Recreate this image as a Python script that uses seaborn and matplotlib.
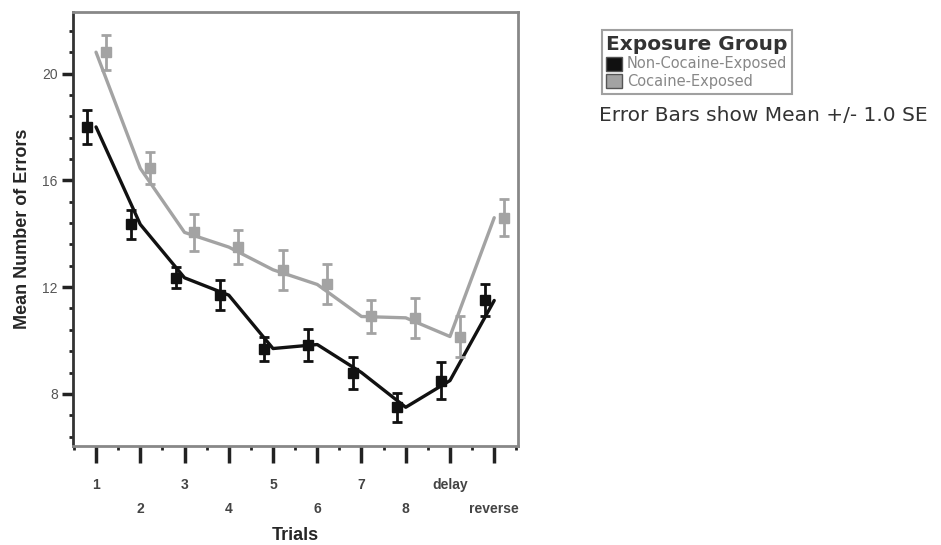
import numpy as np
import pandas as pd
import matplotlib
matplotlib.use('Agg')
import matplotlib.pyplot as plt
import seaborn as sns
from matplotlib.patches import Patch

trials = ['1', '2', '3', '4', '5', '6', '7', '8', 'delay', 'reverse']
non_mean = [18.0, 14.35, 12.35, 11.7, 9.7, 9.85, 8.8, 7.5, 8.5, 11.5]
non_se = [0.62, 0.55, 0.4, 0.55, 0.45, 0.6, 0.6, 0.55, 0.7, 0.6]
coc_mean = [20.8, 16.45, 14.05, 13.5, 12.65, 12.1, 10.9, 10.85, 10.15, 14.6]
coc_se = [0.65, 0.6, 0.7, 0.65, 0.75, 0.75, 0.6, 0.75, 0.75, 0.7]
groups = ['Non-Cocaine-Exposed', 'Cocaine-Exposed']
colors = {'Non-Cocaine-Exposed': '#111111', 'Cocaine-Exposed': '#a3a3a3'}

pos = np.arange(1, len(trials) + 1)
df = pd.DataFrame({
    'pos': np.concatenate([pos, pos]),
    'mean': non_mean + coc_mean,
    'se': non_se + coc_se,
    'group': [groups[0]] * len(pos) + [groups[1]] * len(pos),
})

sns.set_style('white')
plt.rcParams['font.family'] = ['Liberation Sans', 'DejaVu Sans']
fig = plt.figure(figsize=(9.41, 5.45), dpi=100)
ax = fig.add_axes([0.0776, 0.1817, 0.473, 0.796])

sns.lineplot(data=df, x='pos', y='mean', hue='group', palette=colors,
             linewidth=2.4, legend=False, ax=ax, sort=False)

offsets = {groups[0]: -0.2, groups[1]: 0.22}
for g in groups:
    sub = df[df['group'] == g]
    ax.errorbar(sub['pos'] + offsets[g], sub['mean'], yerr=sub['se'],
                fmt='s', color=colors[g], ms=7, capsize=3.5, elinewidth=2,
                capthick=2, zorder=3)

ax.set_xlim(0.48, 10.54)
ax.set_ylim(6.05, 22.3)

ax.set_xticks(pos)
ax.set_xticklabels([t if i % 2 == 0 else '\n' + t for i, t in enumerate(trials)],
                   fontsize=10, color='#444444', fontweight='bold', linespacing=1.9)
ax.set_xticks(list(pos - 0.5)[:1] + list(pos + 0.5), minor=True)
ax.set_yticks([8, 12, 16, 20])
ax.set_yticklabels(['8', '12', '16', '20'], fontsize=10, color='#555555')
ax.set_yticks(np.arange(6.4, 22.4, 0.8), minor=True)

ax.tick_params(axis='x', which='major', direction='out', length=12, width=2.5,
               color='#222222', pad=11, bottom=True)
ax.tick_params(axis='x', which='minor', direction='out', length=3, width=2,
               color='#222222', bottom=True)
ax.tick_params(axis='y', which='major', direction='out', length=8, width=2.5,
               color='#222222', pad=3, left=True)
ax.tick_params(axis='y', which='minor', direction='out', length=3, width=2,
               color='#222222', left=True)

for s in ['top', 'right', 'bottom']:
    ax.spines[s].set_color('#888888')
    ax.spines[s].set_linewidth(2)
ax.spines['left'].set_color('#333333')
ax.spines['left'].set_linewidth(2)

ax.set_xlabel('Trials', fontsize=13, fontweight='bold', labelpad=8)
ax.set_ylabel('Mean Number of Errors', fontsize=13, fontweight='bold', labelpad=8)

handles = [Patch(facecolor=colors[g], edgecolor='#555555') for g in groups]
leg = fig.legend(handles, groups, loc='upper left', bbox_to_anchor=(0.632, 0.958),
                 title='Exposure Group', frameon=True, fancybox=False,
                 handlelength=1.1, handleheight=1.1, handletextpad=0.3,
                 borderpad=0.3, labelspacing=0.2, edgecolor='#888888',
                 prop={'family': 'DejaVu Sans', 'size': 10.5})
leg.get_title().set_fontweight('bold')
leg.get_title().set_fontsize(14.5)
leg.get_title().set_family('DejaVu Sans')
leg.get_title().set_color('#333333')
leg._legend_box.align = 'left'
leg.get_frame().set_linewidth(1.5)
for t in leg.get_texts():
    t.set_color('#888888')

fig.text(0.637, 0.778, 'Error Bars show Mean +/- 1.0 SE', fontsize=14.5,
         color='#333333', family='DejaVu Sans')

fig.savefig('out.png', dpi=100)
